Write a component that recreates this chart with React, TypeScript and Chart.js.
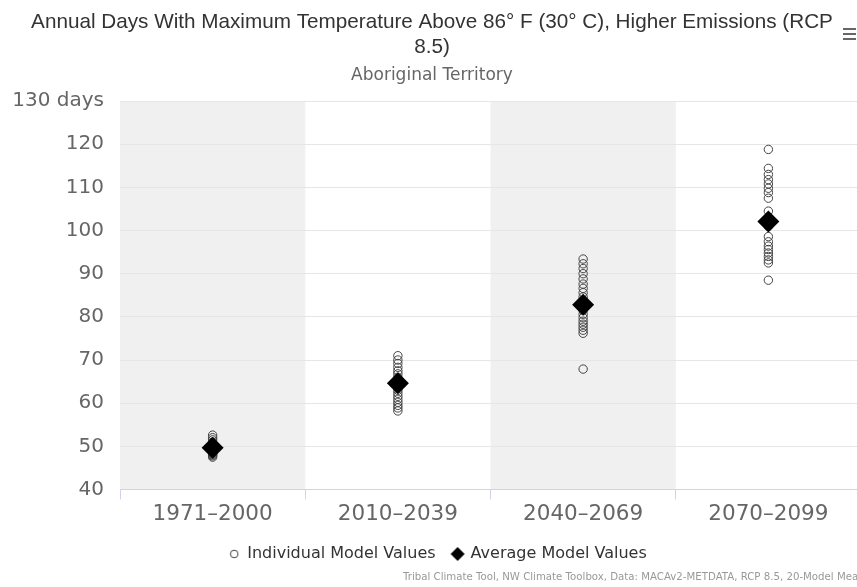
import React, { useEffect, useRef } from "react";
import { Chart, registerables } from "chart.js";

Chart.register(...registerables);

// ---------- data ----------
const categories = ["1971–2000", "2010–2039", "2040–2069", "2070–2099"];

const models1971 = [52.6, 52.0, 51.5, 51.0, 50.7, 50.4, 50.2, 50.0, 49.8, 49.6, 49.4, 49.2, 49.0, 48.8, 48.6, 48.4, 48.2, 48.0, 47.8, 47.5];
const models2010 = [71.0, 70.0, 69.2, 68.3, 67.5, 66.8, 66.0, 65.5, 65.0, 64.6, 64.2, 63.6, 63.0, 62.3, 61.6, 60.9, 60.2, 59.5, 58.9, 58.2];
const models2040 = [93.4, 92.3, 91.2, 90.0, 88.8, 87.6, 86.6, 85.6, 84.6, 83.6, 82.5, 81.5, 80.6, 79.8, 79.0, 78.3, 77.6, 76.9, 76.2, 67.9];
const models2070 = [118.8, 114.4, 113.0, 111.8, 110.8, 109.8, 108.8, 107.5, 104.5, 102.8, 101.0, 98.6, 97.4, 96.4, 95.6, 94.8, 94.0, 93.2, 92.5, 88.5];

const averageValues = [49.7, 64.6, 82.8, 102.1];

const seriesNames = ["Individual Model Values", "Average Model Values"];

const yMin = 40;
const yMax = 130;
const yStep = 10;
const yUnit = "days";

const titleLines = [
  "Annual Days With Maximum Temperature Above 86° F (30° C), Higher Emissions (RCP",
  "8.5)",
];
const subtitleText = "Aboriginal Territory";
const creditText =
  "Tribal Climate Tool, NW Climate Toolbox, Data: MACAv2-METDATA, RCP 8.5, 20-Model Mean";

const modelValues = [models1971, models2010, models2040, models2070];

// ---------- helpers ----------
function makeCircleIcon(): HTMLCanvasElement {
  const c = document.createElement("canvas");
  c.width = 10;
  c.height = 10;
  const g = c.getContext("2d")!;
  g.strokeStyle = "#444";
  g.lineWidth = 1;
  g.beginPath();
  g.arc(5, 5, 3.8, 0, Math.PI * 2);
  g.stroke();
  return c;
}

function makeDiamondIcon(): HTMLCanvasElement {
  const c = document.createElement("canvas");
  c.width = 16;
  c.height = 16;
  const g = c.getContext("2d")!;
  g.fillStyle = "#000";
  g.beginPath();
  g.moveTo(8, 1);
  g.lineTo(15, 8);
  g.lineTo(8, 15);
  g.lineTo(1, 8);
  g.closePath();
  g.fill();
  return c;
}

const bandsPlugin = {
  id: "altBands",
  beforeDraw(chart: any) {
    const { ctx, chartArea, scales } = chart;
    const x = scales.x;
    if (!x || !chartArea) return;
    const half = (x.getPixelForValue(1) - x.getPixelForValue(0)) / 2;
    ctx.save();
    ctx.fillStyle = "#f0f0f0";
    categories.forEach((_, i) => {
      if (i % 2 !== 0) return;
      const cx = x.getPixelForValue(i);
      ctx.fillRect(cx - half, chartArea.top, half * 2, chartArea.bottom - chartArea.top);
    });
    ctx.restore();
  },
};

const legendShiftPlugin = {
  id: "legendShift",
  afterLayout(chart: any) {
    const lg = chart.legend;
    if (lg) {
      lg.left += 6;
      lg.right += 6;
    }
  },
};

const extrasPlugin = {
  id: "extras",
  afterDraw(chart: any) {
    const { ctx } = chart;
    ctx.save();
    // credits
    ctx.font = "10.2px 'DejaVu Sans'";
    ctx.fillStyle = "#999";
    ctx.textAlign = "left";
    ctx.textBaseline = "middle";
    ctx.fillText(creditText, 403, 577);
    // context menu icon
    ctx.strokeStyle = "#666";
    ctx.lineWidth = 2;
    ctx.lineCap = "butt";
    [29, 34, 39].forEach((yy) => {
      ctx.beginPath();
      ctx.moveTo(843, yy);
      ctx.lineTo(856, yy);
      ctx.stroke();
    });
    ctx.restore();
  },
};

export default function App() {
  const canvasRef = useRef<HTMLCanvasElement | null>(null);

  useEffect(() => {
    if (!canvasRef.current) return;
    const circleIcon = makeCircleIcon();
    const diamondIcon = makeDiamondIcon();

    const individual = categories.flatMap((c, i) =>
      modelValues[i].map((v) => ({ x: c, y: v }))
    );
    const averages = averageValues.map((v, i) => ({ x: categories[i], y: v }));

    const chart = new Chart(canvasRef.current, {
      type: "line",
      data: {
        labels: categories,
        datasets: [
          {
            label: seriesNames[0],
            data: individual as any,
            showLine: false,
            pointStyle: "circle",
            pointRadius: 4.2,
            pointBorderWidth: 1,
            pointBorderColor: "#444",
            pointBackgroundColor: "rgba(0,0,0,0)",
            order: 2,
          },
          {
            label: seriesNames[1],
            data: averages as any,
            showLine: false,
            pointStyle: "rectRot",
            pointRadius: 11,
            pointBorderWidth: 0,
            pointBorderColor: "#000",
            pointBackgroundColor: "#000",
            order: 1,
          },
        ],
      },
      options: {
        animation: false,
        responsive: true,
        maintainAspectRatio: false,
        events: [],
        layout: { padding: { left: 0, right: 8, top: 0, bottom: 15 } },
        scales: {
          x: {
            type: "category",
            offset: true,
            grid: {
              offset: true,
              drawOnChartArea: false,
              drawTicks: true,
              tickLength: 10,
              color: "#ccd6eb",
              lineWidth: 1,
            },
            border: { display: true, color: "#ccd6eb", width: 1 },
            ticks: {
              font: { family: "'DejaVu Sans'", size: 21.5, lineHeight: 1 },
              color: "#666",
              padding: 4,
              maxRotation: 0,
              autoSkip: false,
            },
          },
          y: {
            min: yMin,
            max: yMax,
            grid: { color: "#e6e6e6", lineWidth: 1, drawTicks: false },
            border: { display: false },
            ticks: {
              stepSize: yStep,
              font: { family: "'DejaVu Sans'", size: 20 },
              color: "#666",
              padding: 16,
              callback: (v: any) => (Number(v) === yMax ? `${v} ${yUnit}` : `${v}`),
            },
            afterFit: (s: any) => {
              s.width = 120;
            },
          },
        },
        plugins: {
          title: {
            display: true,
            text: titleLines,
            color: "#333",
            font: { family: "'Liberation Sans'", size: 20.7, weight: "normal", lineHeight: 1.2 },
            padding: { top: 10, bottom: 2 },
          },
          subtitle: {
            display: true,
            text: subtitleText,
            color: "#666",
            font: { family: "'DejaVu Sans'", size: 17, weight: "normal", lineHeight: 1.2 },
            padding: { top: 4, bottom: 15 },
          },
          legend: {
            display: true,
            position: "bottom",
            fullSize: true,
            labels: {
              usePointStyle: true,
              boxWidth: 10,
              boxHeight: 10,
              padding: 17,
              color: "#333",
              font: { family: "'DejaVu Sans'", size: 16 },
              generateLabels: (ch: any) =>
                ch.data.datasets.map((ds: any, i: number) => ({
                  text: ds.label,
                  pointStyle: i === 0 ? circleIcon : diamondIcon,
                  fillStyle: i === 0 ? "rgba(0,0,0,0)" : "#000",
                  strokeStyle: i === 0 ? "#444" : "#000",
                  lineWidth: 0,
                  hidden: !ch.isDatasetVisible(i),
                  datasetIndex: i,
                  fontColor: "#333",
                })),
            },
          },
          tooltip: { enabled: false },
        },
      },
      plugins: [bandsPlugin, legendShiftPlugin, extrasPlugin],
    });

    return () => chart.destroy();
  }, []);

  return (
    <div
      style={{
        position: "absolute",
        left: 0,
        top: 0,
        width: 857,
        height: 587,
        overflow: "hidden",
        background: "#fff",
      }}
    >
      <div style={{ position: "relative", width: 872, height: 587 }}>
        <canvas ref={canvasRef} />
      </div>
    </div>
  );
}
